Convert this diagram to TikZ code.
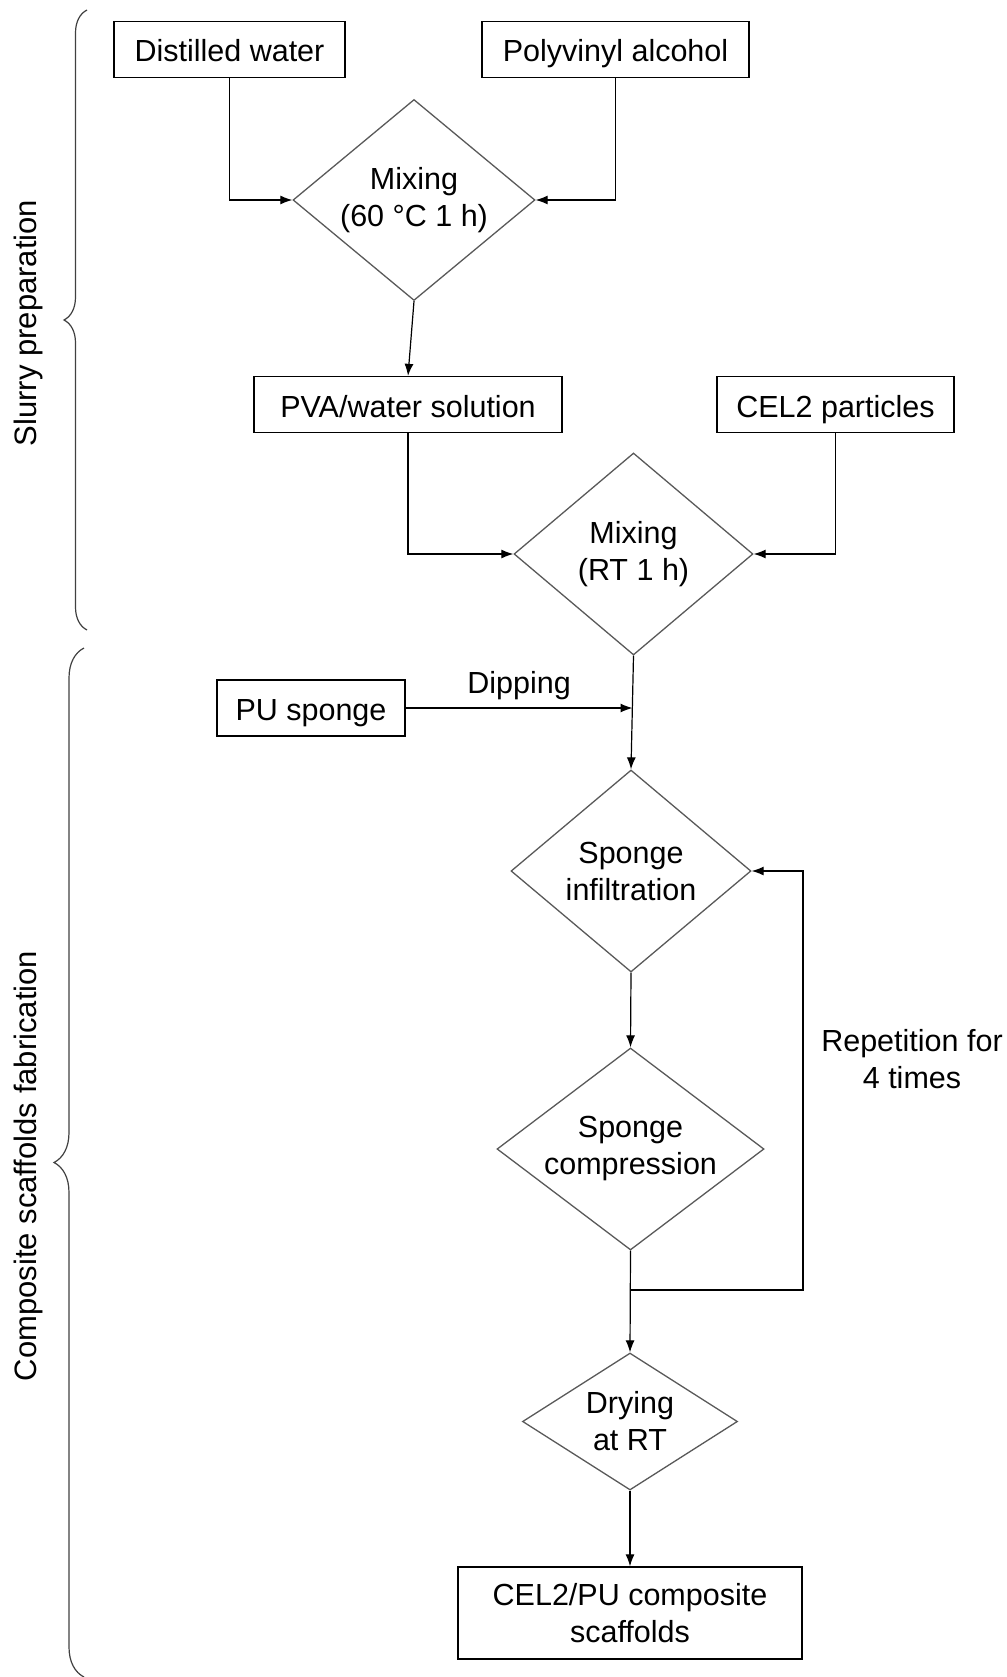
\documentclass[tikz,border=0pt]{standalone}
\usepackage{fontspec}
\setmainfont{Liberation Sans}
\usetikzlibrary{shapes.geometric,arrows.meta,decorations.pathreplacing}
\begin{document}
\begin{tikzpicture}[x=1pt,y=-1pt,
  every node/.style={font=\fontsize{30.5}{37}\selectfont},
  box/.style={draw=black, line width=1.3pt, inner sep=0pt, align=center},
  onel/.style={text height=26pt, text depth=1pt},
  dia/.style={diamond, draw=black!65, line width=1.3pt, inner sep=0pt},
  txt/.style={align=center, inner sep=0pt},
  arr/.style={-{Latex[length=12pt,width=9pt]}, line width=1.2pt},
  side/.style={rotate=90, inner sep=0pt, font=\fontsize{31}{37}\selectfont},
  brc/.style={decorate, line width=1.2pt, draw=black!75}]
\useasboundingbox (0,0) rectangle (1006,1677);

\node[box, onel, minimum width=231pt, minimum height=56pt] (dw) at (229.5,49.5) {Distilled water};
\node[box, onel, minimum width=267pt, minimum height=56pt] (pa) at (615.5,49.5) {Polyvinyl alcohol};
\node[dia, minimum width=242pt, minimum height=201pt,
      label={[txt]center:{Mixing\\(60 °C 1 h)}}] (m1) at (414,200) {};
\node[box, onel, minimum width=308pt, minimum height=56pt] (ps) at (408,404.5) {PVA/water solution};
\node[box, onel, minimum width=237pt, minimum height=56pt] (cel) at (835.5,404.5) {CEL2 particles};
\node[dia, minimum width=239pt, minimum height=202pt,
      label={[txt]center:{Mixing\\(RT 1 h)}}] (m2) at (633.5,554) {};
\node[box, onel, minimum width=188pt, minimum height=56pt] (pu) at (311,708) {PU sponge};
\node[dia, minimum width=240pt, minimum height=202pt,
      label={[txt]center:{Sponge\\infiltration}}] (inf) at (631,871) {};
\node[dia, minimum width=267pt, minimum height=202pt,
      label={[txt]center:{Sponge\\compression}}] (cmp) at (630.5,1149) {};
\node[dia, minimum width=215pt, minimum height=137pt,
      label={[txt]center:{Drying\\at RT}}] (dry) at (630,1421.5) {};
\node[box, minimum width=344pt, minimum height=92pt] (fin) at (630,1613) {CEL2/PU composite\\scaffolds};
\node[txt] (rep) at (912,1059) {Repetition for\\4 times};
\node[side] (sl) at (28,323) {Slurry preparation};
\node[side] (cs) at (28,1166) {Composite scaffolds fabrication};

\draw[arr] (dw.south) |- (m1.west);
\draw[arr] (pa.south) |- (m1.east);
\draw[arr] (m1.south) -- (ps.north);
\draw[arr] (ps.south) |- (m2.west);
\draw[arr] (cel.south) |- (m2.east);
\draw[arr] (m2.south) -- (inf.north);
\coordinate (dip) at (632.5,708);
\draw[arr] (pu.east) -- node[txt, above=8pt] (dlab) {Dipping} (dip);
\draw[arr] (inf.south) -- (cmp.north);
\draw[arr] (cmp.south) -- (dry.north);
\coordinate (lp) at (803,1290);
\draw[arr] (cmp.south |- lp) -- (lp) |- (inf.east);
\draw[arr] (dry.south) -- (fin.north);

\coordinate (b1a) at (87,630);
\coordinate (b1b) at (87,10);
\coordinate (b2a) at (84,1677);
\coordinate (b2b) at (84,648);
\draw[brc, decoration={brace, amplitude=23pt}] (b1a) -- (b1b);
\draw[brc, decoration={brace, amplitude=30pt}] (b2a) -- (b2b);
\end{tikzpicture}
\end{document}
